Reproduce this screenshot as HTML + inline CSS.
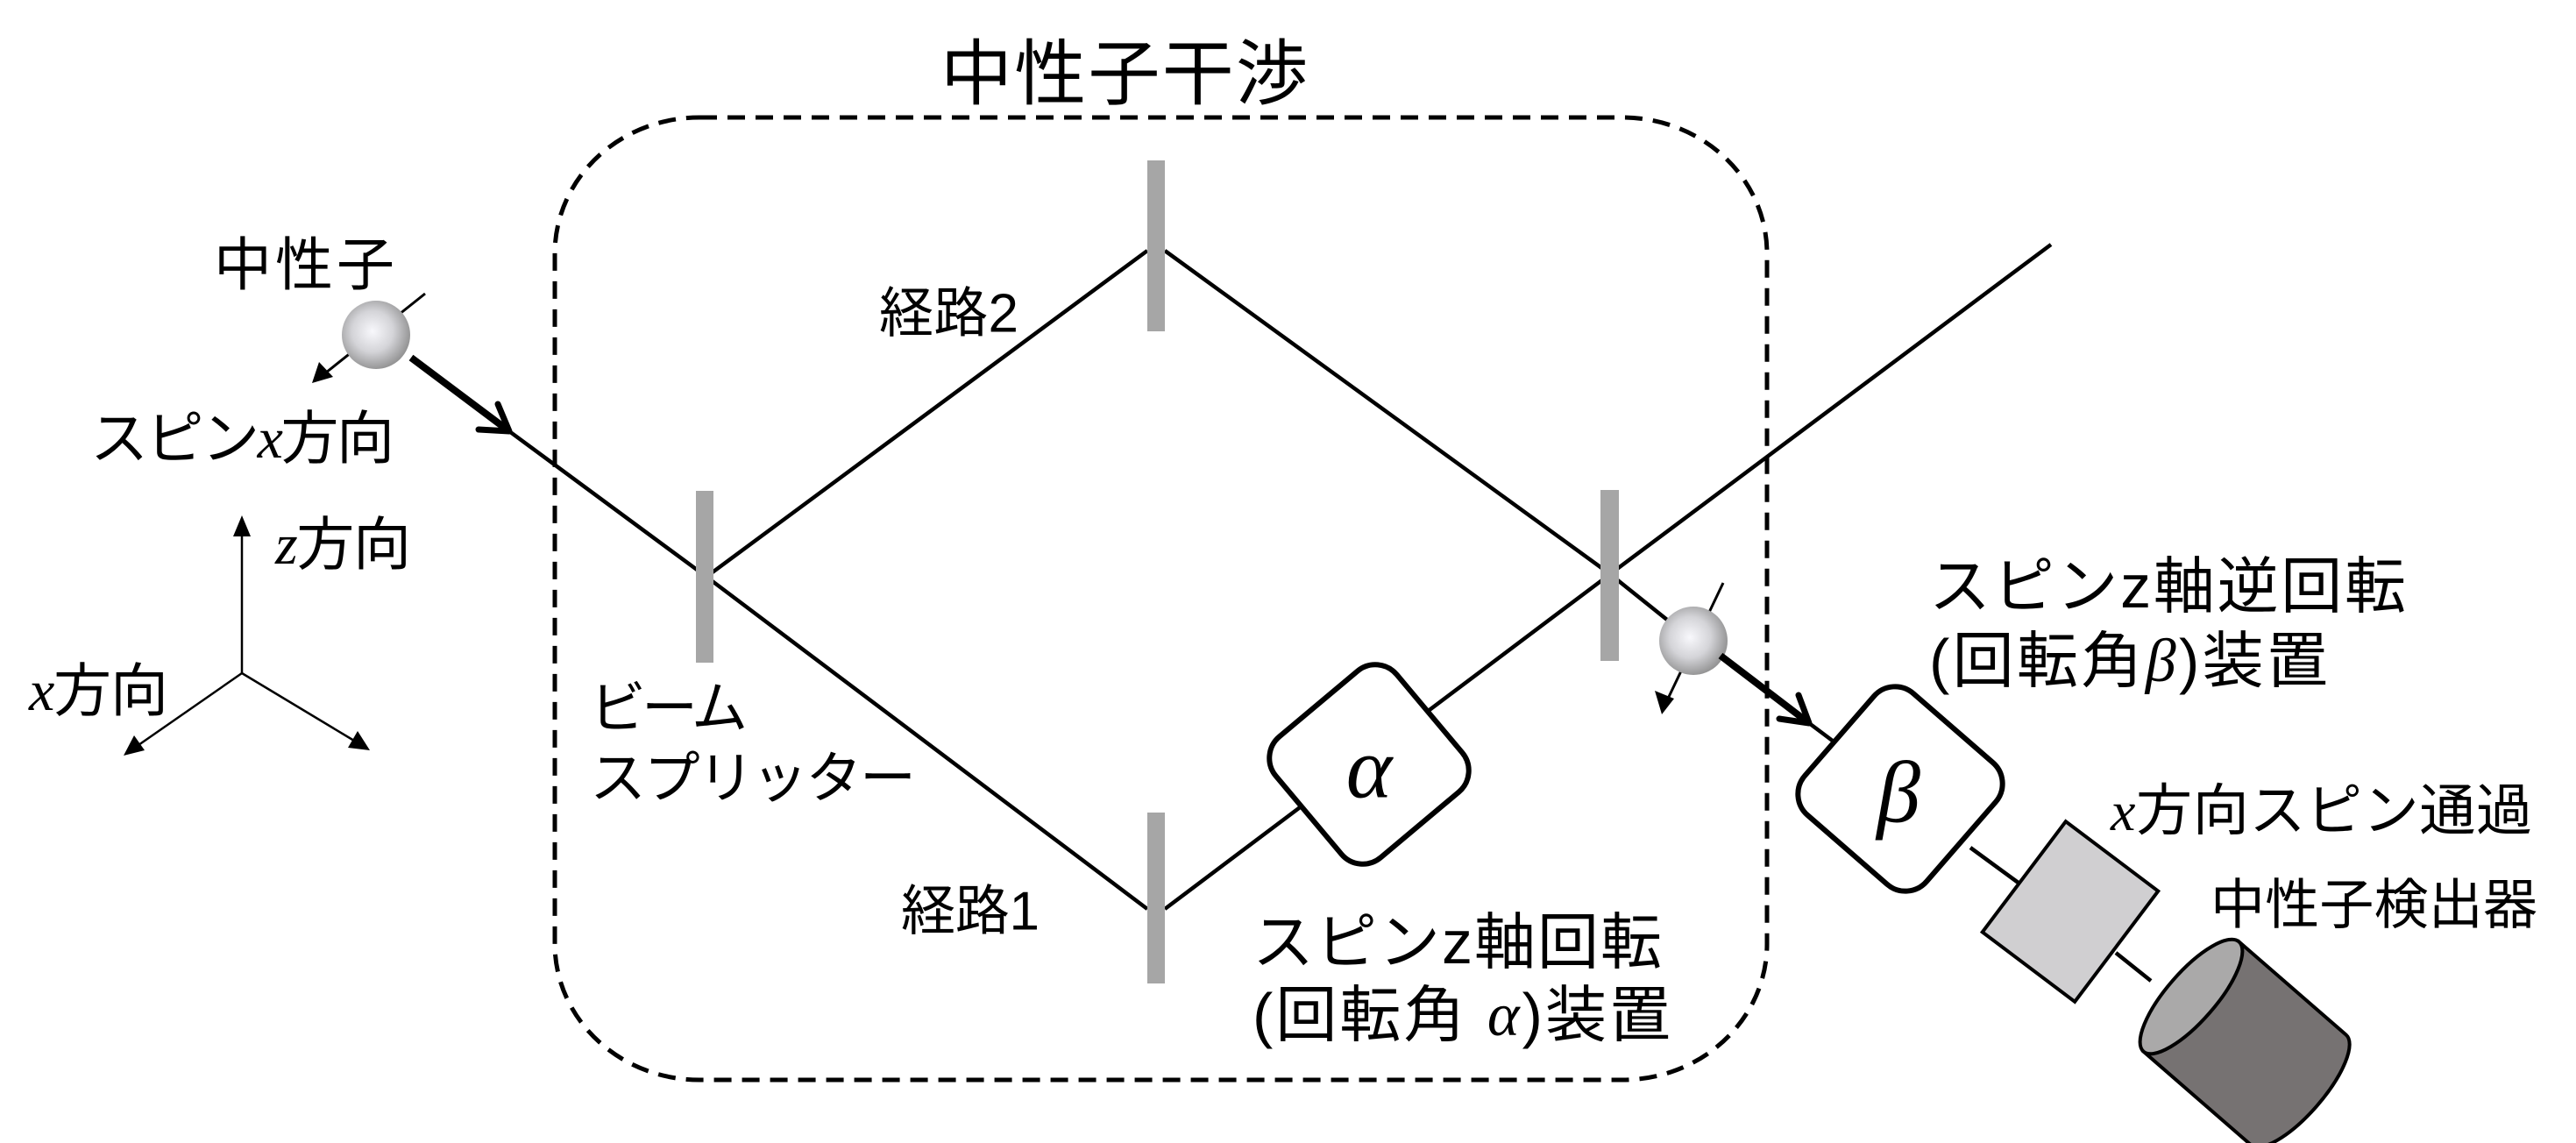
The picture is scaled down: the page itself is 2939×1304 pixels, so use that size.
<!DOCTYPE html>
<html><head><meta charset="utf-8"><style>
html,body{margin:0;padding:0;background:#fff}
svg{display:block}
text{font-family:"Liberation Sans","Noto Sans CJK JP",sans-serif;fill:#000;dominant-baseline:central}
.m{font-family:"Liberation Serif",serif;font-style:italic}
</style></head><body>
<svg width="2939" height="1304" viewBox="0 0 2939 1304" xmlns="http://www.w3.org/2000/svg">
<defs>
<radialGradient id="g" cx="45%" cy="45%" r="60%">
<stop offset="0" stop-color="#f8f8fc"/><stop offset="0.5" stop-color="#d4d4d8"/><stop offset="1" stop-color="#8a8a8a"/>
</radialGradient>
</defs>

<rect x="633" y="134" width="1383" height="1098" rx="165" ry="155" fill="none" stroke="#000" stroke-width="5" stroke-dasharray="20,12"/>
<text x="1073" y="85" font-size="82" textLength="419" lengthAdjust="spacing">中性子干渉</text>

<g stroke="#000" stroke-width="4.5" fill="none">
<line x1="581" y1="492" x2="806" y2="658"/>
<line x1="806" y1="658" x2="1309" y2="286"/>
<line x1="806" y1="658" x2="1309" y2="1037"/>
<line x1="1329" y1="286" x2="1837" y2="655"/>
<line x1="1329" y1="1037" x2="1837" y2="655"/>
<line x1="1837" y1="655" x2="2340" y2="279"/>
<line x1="1837" y1="655" x2="1932" y2="731"/>
<line x1="2064" y1="825" x2="2100" y2="852"/>
<line x1="2248" y1="967" x2="2304" y2="1008"/>
<line x1="2414" y1="1087" x2="2454" y2="1119"/>
</g>

<g fill="#a6a6a6">
<rect x="794" y="560" width="20" height="196"/>
<rect x="1309" y="183" width="20" height="195"/>
<rect x="1309" y="927" width="20" height="195"/>
<rect x="1826" y="559" width="21" height="195"/>
</g>

<line x1="485" y1="335" x2="372" y2="425" stroke="#000" stroke-width="3"/>
<polygon points="356,437 364,413 380,430" fill="#000"/>
<circle cx="429" cy="382" r="39" fill="url(#g)"/>
<line x1="469" y1="408" x2="577" y2="489" stroke="#000" stroke-width="8"/>
<polyline points="546,490 581,492 568,461" fill="none" stroke="#000" stroke-width="7" stroke-linecap="round" stroke-linejoin="round"/>
<text x="244" y="302" font-size="66" textLength="206" lengthAdjust="spacing">中性子</text>
<text x="103" y="500" font-size="66" textLength="347" lengthAdjust="spacing">スピン<tspan class="m">x</tspan>方向</text>

<g stroke="#000" stroke-width="2.5">
<line x1="276" y1="768" x2="276" y2="610"/>
<line x1="276" y1="768" x2="158" y2="850"/>
<line x1="276" y1="768" x2="404" y2="845"/>
</g>
<polygon points="276,588 266,612 286,612" fill="#000"/>
<polygon points="141,862 153,839 165,856" fill="#000"/>
<polygon points="422,856 397,853 408,834" fill="#000"/>
<text x="314" y="621" font-size="66" textLength="155" lengthAdjust="spacing"><tspan class="m">z</tspan>方向</text>
<text x="33" y="788" font-size="66" textLength="159" lengthAdjust="spacing"><tspan class="m">x</tspan>方向</text>

<text x="673" y="808" font-size="64" textLength="180" lengthAdjust="spacing">ビーム</text>
<text x="673" y="888" font-size="64" textLength="372" lengthAdjust="spacing">スプリッター</text>
<text x="1003" y="358" font-size="62" textLength="159" lengthAdjust="spacing">経路2</text>
<text x="1028" y="1040" font-size="62" textLength="158" lengthAdjust="spacing">経路1</text>

<g transform="translate(1562,872) rotate(50)">
<rect x="-90" y="-90" width="180" height="180" rx="32" fill="#fff" stroke="#000" stroke-width="6"/>
</g>
<text x="1562" y="876" font-size="100" class="m" text-anchor="middle">α</text>
<text x="1429" y="1075" font-size="70" textLength="467" lengthAdjust="spacing">スピンz軸回転</text>
<text x="1429" y="1158" font-size="70" textLength="477" lengthAdjust="spacing">(回転角 <tspan class="m">α</tspan>)装置</text>

<line x1="1966" y1="665" x2="1903" y2="797" stroke="#000" stroke-width="3"/>
<polygon points="1896,815 1888,788 1910,797" fill="#000"/>
<circle cx="1932" cy="731" r="39" fill="url(#g)"/>
<line x1="1963" y1="748" x2="2060" y2="822" stroke="#000" stroke-width="8"/>
<polyline points="2030,820 2064,825 2052,793" fill="none" stroke="#000" stroke-width="7" stroke-linecap="round" stroke-linejoin="round"/>

<g transform="translate(2168,900) rotate(41)">
<rect x="-92" y="-92" width="184" height="184" rx="32" fill="#fff" stroke="#000" stroke-width="6"/>
</g>
<text x="2166" y="904" font-size="100" class="m" text-anchor="middle">β</text>
<text x="2201" y="669" font-size="70" textLength="544" lengthAdjust="spacing">スピンz軸逆回転</text>
<text x="2201" y="754" font-size="70" textLength="455" lengthAdjust="spacing">(回転角<tspan class="m">β</tspan>)装置</text>

<g transform="translate(2362,1040) rotate(37)">
<rect x="-66" y="-79" width="132" height="158" fill="#d0cfd1" stroke="#000" stroke-width="4"/>
</g>
<text x="2408" y="925" font-size="64" textLength="481" lengthAdjust="spacing"><tspan class="m">x</tspan>方向スピン通過</text>

<g transform="translate(2500,1137) rotate(41)">
<path d="M0,-83 L162,-83 A28,83 0 0 1 162,83 L0,83 Z" fill="#767272" stroke="#000" stroke-width="4"/>
<ellipse cx="0" cy="0" rx="28" ry="83" fill="#aaa9a9" stroke="#000" stroke-width="4"/>
</g>
<text x="2522" y="1033" font-size="62" textLength="373" lengthAdjust="spacing">中性子検出器</text>
</svg>
</body></html>
